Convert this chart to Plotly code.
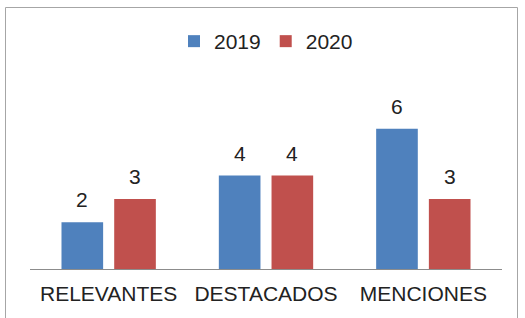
import plotly.graph_objects as go

categories = ["RELEVANTES", "DESTACADOS", "MENCIONES"]
series_names = ["2019", "2020"]
values_2019 = [2, 4, 6]
values_2020 = [3, 4, 3]
colors = ["#4f81bd", "#c0504d"]

W, H = 525, 318
ml, mr, mt, mb = 30, 23, 82, 49
bargap = 0.33
bargroupgap = 0.21

fig = go.Figure()
for name, vals, col in zip(series_names, [values_2019, values_2020], colors):
    fig.add_trace(go.Bar(x=categories, y=vals, name=name, marker_color=col,
                         marker_line_width=0))

fig.update_layout(
    width=W, height=H,
    margin=dict(l=ml, r=mr, t=mt, b=mb),
    paper_bgcolor="white", plot_bgcolor="white",
    barmode="group", bargap=bargap, bargroupgap=bargroupgap,
    font=dict(family="Liberation Sans, Arial", size=21, color="#222222"),
    showlegend=True,
    legend=dict(orientation="h", x=0.5, xanchor="center", y=1.0 + (mt - 41.5) / (H - mt - mb),
                yanchor="middle", font=dict(size=21, color="#222222"),
                itemwidth=30, tracegroupgap=0, bgcolor="rgba(0,0,0,0)"),
    xaxis=dict(showline=True, linecolor="#8c8c8c", linewidth=1, showgrid=False,
               ticks="", tickfont=dict(size=21, color="#222222"), ticklabelstandoff=6,
               fixedrange=True),
    yaxis=dict(range=[0, 8], visible=False, showgrid=False, zeroline=False, fixedrange=True),
)

# value labels above bars
slot = (1 - bargap) / 2
for si, vals in enumerate([values_2019, values_2020]):
    off = (si - 0.5) * slot
    for ci, v in enumerate(vals):
        fig.add_annotation(x=ci + off, y=v, xref="x", yref="y", text=str(v),
                           showarrow=False, yanchor="bottom", yshift=9,
                           font=dict(size=21, color="#222222"))

# outer frame of the chart
pw, ph = W - ml - mr, H - mt - mb
def px_to_paper_x(px):
    return (px - ml) / pw
def px_to_paper_y(py):
    return (H - mb - py) / ph
fig.add_shape(type="rect", xref="paper", yref="paper",
              x0=px_to_paper_x(5.5), x1=px_to_paper_x(517.5),
              y0=px_to_paper_y(330), y1=px_to_paper_y(7.5),
              line=dict(color="#a6a6a6", width=1), fillcolor="rgba(0,0,0,0)", layer="below")

fig.write_html("out.html", config={"displayModeBar": False},
               post_script="document.body.style.margin='0';document.body.style.overflow='hidden';")
